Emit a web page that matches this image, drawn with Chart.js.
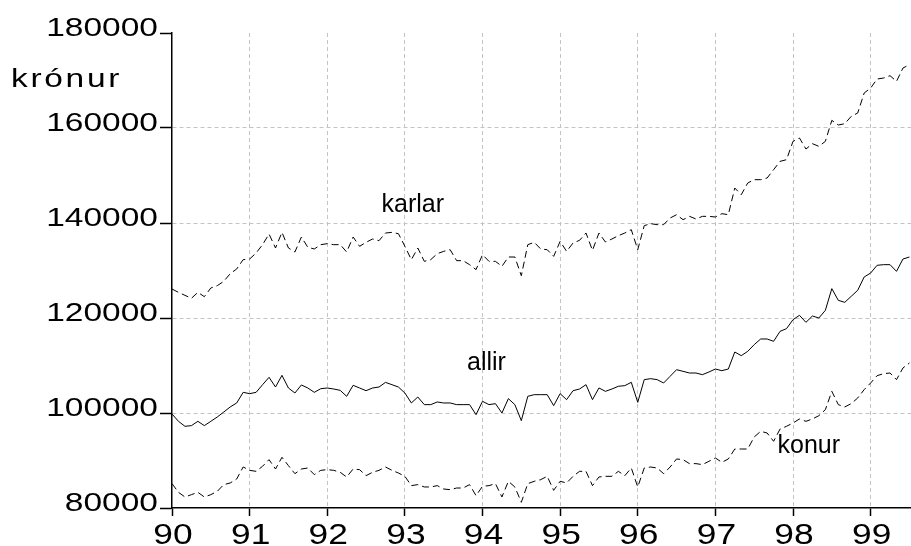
<!DOCTYPE html>
<html><head><meta charset="utf-8">
<script src="https://cdn.jsdelivr.net/npm/chart.js@4/dist/chart.umd.min.js"></script>
<style>html,body{margin:0;padding:0;background:#fff;}#wrap{width:911px;height:546px;}</style>
</head><body><div id="wrap"><canvas id="c" width="911" height="546"></canvas></div>
<script>
// ---- data ----
const startYear = 90;               // first observation: January 1990, monthly
const yearTicks = [90, 91, 92, 93, 94, 95, 96, 97, 98, 99];
const yearLabels = ['90', '91', '92', '93', '94', '95', '96', '97', '98', '99'];
const yTicks = [80000, 100000, 120000, 140000, 160000, 180000];
const yTickLabels = ['80000', '100000', '120000', '140000', '160000', '180000'];
const unitLabel = 'krónur';
const seriesNames = ['karlar', 'allir', 'konur'];

const karlar = [
  126100, 125400, 124770, 124140, 125400, 124490, 126320, 126810, 127720, 129330, 130320, 132280,
  132420, 133680, 135440, 137680, 134740, 138030, 134740, 133900, 137050, 134880, 134530, 135440,
  135650, 135440, 135440, 133900, 137050, 135090, 135930, 136630, 136280, 137890, 138030, 137750,
  135090, 132280, 134740, 131930, 132280, 133540, 134030, 134380, 132070, 132070, 131230, 130180,
  133330, 131930, 131930, 130880, 132840, 132840, 128910, 135440, 135930, 134530, 134380, 132980,
  136140, 134030, 135790, 136350, 137890, 134240, 137890, 136000, 136630, 137330, 137890, 138590,
  134380, 139440, 139860, 139650, 139650, 141050, 141750, 140700, 141400, 140840, 141400, 141400,
  141260, 141960, 141750, 147360, 145960, 148420, 149120, 149120, 149470, 151220, 152980, 153330,
  157190, 157890, 155570, 156700, 156140, 157190, 161610, 160630, 160910, 162450, 163150, 167360,
  168420, 170310, 170520, 171010, 169820, 172630, 173330
];
const allir = [
  99790, 98250, 97200, 97340, 98250, 97340, 98250, 99160, 100210, 101270, 102110, 104350,
  104070, 104350, 105960, 107510, 105470, 107930, 105260, 104210, 105900, 105260, 104350, 105120,
  105260, 105050, 104770, 103510, 105830, 105260, 104700, 105260, 105470, 106450, 105960, 105470,
  104210, 102110, 103370, 101760, 101760, 102320, 102110, 102110, 101760, 101760, 101760, 99650,
  102460, 101760, 101970, 100000, 103020, 101760, 98390, 103510, 103860, 103860, 103860, 101550,
  104070, 102810, 104700, 105050, 105970, 102810, 105270, 104560, 105050, 105620, 105760, 106460,
  102250, 107020, 107230, 107020, 106320, 107720, 109120, 108770, 108420, 108420, 108070, 108630,
  109260, 108910, 109260, 112840, 112070, 112980, 114390, 115580, 115580, 115090, 117190, 117760,
  119650, 120560, 119090, 120420, 120000, 121610, 126180, 123720, 123300, 124560, 125830, 128630,
  129470, 131090, 131230, 131230, 129820, 132420, 132840
];
const konur = [
  85130, 83300, 82320, 82810, 83300, 82320, 82810, 83510, 84920, 85270, 86110, 88640,
  87930, 87720, 88780, 90180, 88210, 90670, 88920, 87230, 88210, 88420, 87020, 87930,
  88070, 87930, 87510, 86530, 88210, 88070, 86810, 87510, 87930, 88640, 87930, 87370,
  86670, 84710, 84920, 84430, 84430, 84710, 84000, 83860, 84210, 84210, 84920, 82600,
  84570, 84710, 85130, 82320, 85620, 84430, 81200, 85130, 85620, 85970, 86670, 83720,
  85620, 85270, 86670, 87720, 87720, 84710, 86530, 86670, 86670, 87720, 86810, 88420,
  84430, 88420, 88630, 88420, 87230, 88630, 90320, 90180, 89340, 89340, 89130, 89830,
  90530, 89620, 90320, 92420, 92420, 92420, 94950, 96140, 95790, 94040, 96630, 97200,
  97900, 98740, 98250, 98740, 99440, 100700, 104560, 101760, 101270, 101970, 103160, 104920,
  106320, 107860, 108280, 108420, 107020, 109480, 110530
];

// ---- chart ----
const toPoints = vals => vals.map((v, i) => ({ x: startYear + i / 12, y: v }));
const FONT = '"Liberation Sans", Arial, sans-serif';
const GRID = '#c4c4c4';

// positions of the in-plot series labels (data coordinates)
const seriesLabelPos = [
  { x: 92.70, y: 142300 },
  { x: 93.80, y: 109100 },
  { x: 97.80, y: 91600 }
];

const textPlugin = {
  id: 'texts',
  afterDraw(chart) {
    const { ctx, scales: { x, y } } = chart;
    ctx.save();
    ctx.fillStyle = '#000';
    ctx.textBaseline = 'alphabetic';
    // y tick labels (wide face)
    ctx.font = '25px ' + FONT;
    ctx.textAlign = 'right';
    yTicks.forEach((v, i) => {
      const py = y.getPixelForValue(v);
      ctx.save();
      ctx.translate(x.left - 14, py + 2.5);
      ctx.scale(1.34, 1);
      ctx.fillText(yTickLabels[i], 0, 0);
      ctx.restore();
    });
    // unit label
    ctx.save();
    ctx.textAlign = 'left';
    ctx.translate(11, 87);
    ctx.scale(1.34, 1);
    if ('letterSpacing' in ctx) ctx.letterSpacing = '2px';
    ctx.fillText(unitLabel, 0, 0);
    ctx.restore();
    // x tick labels
    ctx.font = '29px ' + FONT;
    ctx.textAlign = 'center';
    yearTicks.forEach((v, i) => {
      const px = x.getPixelForValue(v);
      ctx.save();
      ctx.translate(px + 1, 544);
      ctx.scale(1.22, 1);
      ctx.fillText(yearLabels[i], 0, 0);
      ctx.restore();
    });
    // series labels
    ctx.font = '25px ' + FONT;
    ctx.textAlign = 'left';
    seriesNames.forEach((n, i) => {
      const p = seriesLabelPos[i];
      ctx.fillText(n, x.getPixelForValue(p.x), y.getPixelForValue(p.y));
    });
    ctx.restore();
  }
};

const bg = {
  id: 'bg',
  beforeDraw(chart) {
    const c = chart.ctx;
    c.save(); c.fillStyle = '#fff'; c.fillRect(0, 0, chart.width, chart.height); c.restore();
  }
};

new Chart(document.getElementById('c'), {
  type: 'line',
  data: {
    datasets: [
      { label: seriesNames[0], data: toPoints(karlar), borderColor: '#000', borderWidth: 1, borderDash: [7, 4], pointRadius: 0, fill: false, tension: 0 },
      { label: seriesNames[1], data: toPoints(allir), borderColor: '#000', borderWidth: 1, pointRadius: 0, fill: false, tension: 0 },
      { label: seriesNames[2], data: toPoints(konur), borderColor: '#000', borderWidth: 1, borderDash: [7, 4], pointRadius: 0, fill: false, tension: 0 }
    ]
  },
  options: {
    responsive: false,
    animation: false,
    devicePixelRatio: 1,
    layout: { padding: { top: 33, left: 0, right: 0, bottom: 0 } },
    plugins: { legend: { display: false }, tooltip: { enabled: false } },
    scales: {
      x: {
        type: 'linear',
        min: 90,
        max: 99.52,
        afterBuildTicks: s => { s.ticks = yearTicks.map(v => ({ value: v })); },
        afterFit: s => { s.height = 38; },
        ticks: { display: false },
        border: { display: true, color: '#000', width: 1.5, dash: [4, 3] },
        grid: {
          color: c => (c.tick && c.tick.value === 90) ? 'rgba(0,0,0,0)' : GRID,
          lineWidth: 1,
          tickLength: 8,
          tickColor: '#000',
          tickWidth: 1.5,
          tickBorderDash: []
        }
      },
      y: {
        min: 80000,
        max: 180000,
        afterBuildTicks: s => { s.ticks = yTicks.map(v => ({ value: v })); },
        afterFit: s => { s.width = 172; },
        ticks: { display: false },
        border: { display: true, color: '#000', width: 1.5, dash: [4, 3] },
        grid: {
          color: c => (c.tick && (c.tick.value === 180000 || c.tick.value === 80000)) ? 'rgba(0,0,0,0)' : GRID,
          lineWidth: 1,
          tickLength: 12,
          tickColor: '#000',
          tickWidth: 1.5,
          tickBorderDash: []
        }
      }
    }
  },
  plugins: [bg, textPlugin]
});
</script>
</body></html>
